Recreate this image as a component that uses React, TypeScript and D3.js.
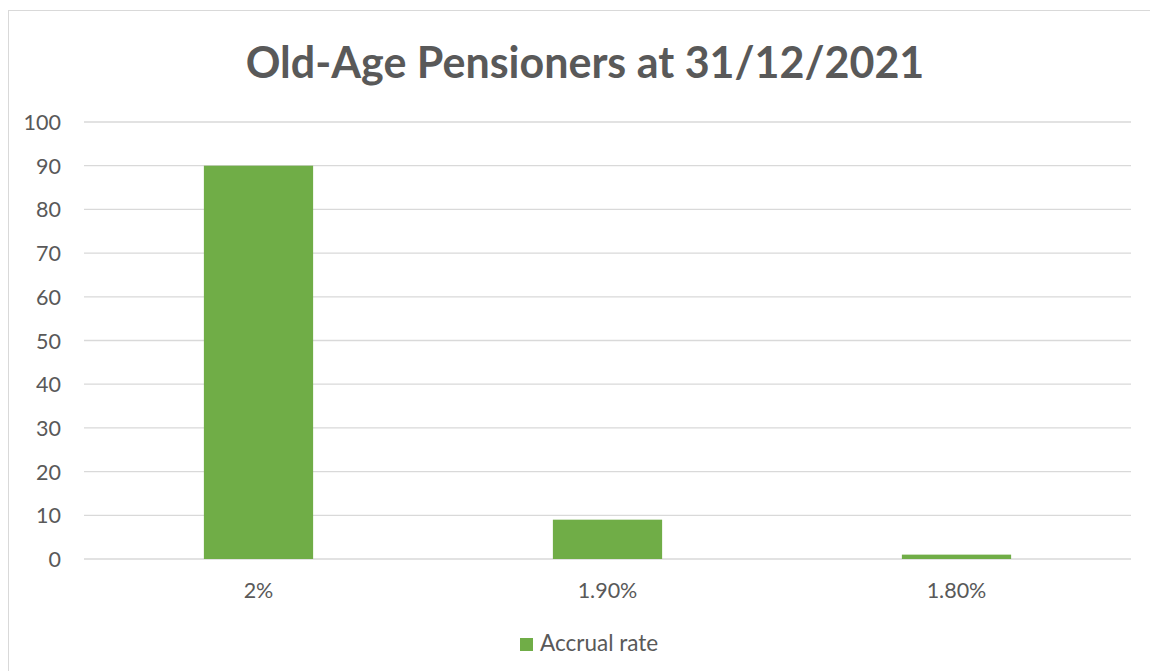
import { useEffect } from "react";
import * as d3 from "d3";

const W = 1150;
const H = 671;

// data
const CATEGORIES = ["2%", "1.90%", "1.80%"];
const VALUES = [90, 9, 1];
const Y_TICKS = [0, 10, 20, 30, 40, 50, 60, 70, 80, 90, 100];
const TITLE = "Old-Age Pensioners at 31/12/2021";
const SERIES = "Accrual rate";

const GREEN = "#70AD47";
const GRID = "#D9D9D9";
const TEXT = "#595959";
const FONT = "Lato, 'Open Sans', sans-serif";

export default function App() {
  useEffect(() => {
    document.body.style.margin = "0";
  }, []);

  const m = { left: 84, right: 1131, top: 122, bottom: 559 };

  const x = d3
    .scaleBand<string>()
    .domain(CATEGORIES)
    .range([m.left, m.right])
    .paddingInner(0.687)
    .paddingOuter(0.3435);

  const y = d3.scaleLinear().domain([0, 100]).range([m.bottom, m.top]);

  return (
    <svg width={W} height={H} style={{ display: "block" }} fontFamily={FONT}>
      <rect width={W} height={H} fill="#fff" />
      {/* chart border */}
      <rect x={8.5} y={10.5} width={W} height={H} fill="none" stroke={GRID} strokeWidth={1} />

      {/* title */}
      <text x={585} y={78} textAnchor="middle" fontSize={43} fontWeight="bold" fill={TEXT}>
        {TITLE}
      </text>

      {/* gridlines + y labels */}
      {Y_TICKS.map((t) => (
        <g key={t}>
          <line x1={m.left} x2={m.right} y1={y(t)} y2={y(t)} stroke={GRID} strokeWidth={1.3} />
          <text
            x={61}
            y={y(t)}
            textAnchor="end"
            dominantBaseline="central"
            fontSize={21.5}
            fill={TEXT}
          >
            {t}
          </text>
        </g>
      ))}

      {/* bars */}
      {CATEGORIES.map((c, i) => (
        <rect
          key={c}
          x={x(c)}
          y={y(VALUES[i])}
          width={x.bandwidth()}
          height={y(0) - y(VALUES[i])}
          fill={GREEN}
        />
      ))}

      {/* x labels */}
      {CATEGORIES.map((c) => (
        <text
          key={c}
          x={(x(c) ?? 0) + x.bandwidth() / 2}
          y={598}
          textAnchor="middle"
          fontSize={21.5}
          fill={TEXT}
        >
          {c}
        </text>
      ))}

      {/* legend */}
      <rect x={520} y={638} width={13} height={13} fill={GREEN} />
      <text x={540} y={651} fontSize={22.5} fill={TEXT}>
        {SERIES}
      </text>
    </svg>
  );
}
